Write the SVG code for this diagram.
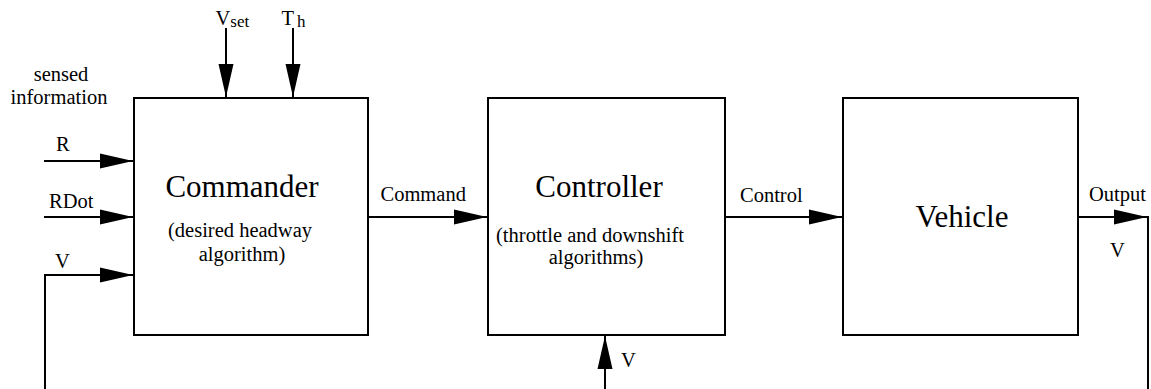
<svg xmlns="http://www.w3.org/2000/svg" width="1151" height="389" viewBox="0 0 1151 389">
<style>
text{font-family:"Liberation Serif","Times New Roman",serif;fill:#000}
.s{font-size:20.5px}
.b{font-size:31px}
.sub{font-size:17px}
.box{fill:#fff;stroke:#000;stroke-width:2}
.ln{fill:none;stroke:#000;stroke-width:2}
</style>
<defs>
<marker id="ah" markerWidth="34" markerHeight="16" refX="33" refY="8" orient="auto" markerUnits="userSpaceOnUse">
<path d="M0,0.5 L33,8 L0,15.5 z" fill="#000"/>
</marker>
</defs>
<g id="commander">
<rect class="box" x="134" y="98" width="234" height="237"/>
<text class="b" x="242" y="197" text-anchor="middle">Commander</text>
<text class="s" x="240" y="237" text-anchor="middle">(desired headway</text>
<text class="s" x="242" y="261" text-anchor="middle">algorithm)</text>
</g>
<g id="controller">
<rect class="box" x="488" y="98" width="237" height="237"/>
<text class="b" x="599" y="197" text-anchor="middle">Controller</text>
<text class="s" x="590" y="242" text-anchor="middle">(throttle and downshift</text>
<text class="s" x="596" y="264" text-anchor="middle">algorithms)</text>
</g>
<g id="vehicle">
<rect class="box" x="843" y="98" width="235" height="237"/>
<text class="b" x="962" y="227" text-anchor="middle">Vehicle</text>
</g>
<g id="connectors">
<line class="ln" x1="44" y1="161" x2="133" y2="161" marker-end="url(#ah)"/>
<line class="ln" x1="44" y1="217" x2="133" y2="217" marker-end="url(#ah)"/>
<polyline class="ln" points="45,389 45,275 133,275" marker-end="url(#ah)"/>
<line class="ln" x1="226" y1="28" x2="226" y2="97" marker-end="url(#ah)"/>
<line class="ln" x1="293" y1="28" x2="293" y2="97" marker-end="url(#ah)"/>
<line class="ln" x1="368" y1="217" x2="487" y2="217" marker-end="url(#ah)"/>
<line class="ln" x1="725" y1="217" x2="842" y2="217" marker-end="url(#ah)"/>
<line class="ln" x1="1078" y1="217" x2="1147" y2="217" marker-end="url(#ah)"/>
<line class="ln" x1="1148" y1="216" x2="1148" y2="389"/>
<line class="ln" x1="605" y1="389" x2="605" y2="336" marker-end="url(#ah)"/>
</g>
<g id="labels">
<text class="s" x="61" y="81" text-anchor="middle">sensed</text>
<text class="s" x="59" y="104" text-anchor="middle">information</text>
<text class="s" x="56" y="151">R</text>
<text class="s" x="49" y="208">RDot</text>
<text class="s" x="55" y="268">V</text>
<text class="s" x="215.5" y="25">V<tspan class="sub" dy="2">set</tspan></text>
<text class="s" x="281.5" y="25">T<tspan class="sub" dx="3" dy="2">h</tspan></text>
<text class="s" x="380.5" y="201">Command</text>
<text class="s" x="740" y="201.5">Control</text>
<text class="s" x="1089" y="201">Output</text>
<text class="s" x="1110" y="257">V</text>
<text class="s" x="621" y="367">V</text>
</g>
</svg>
